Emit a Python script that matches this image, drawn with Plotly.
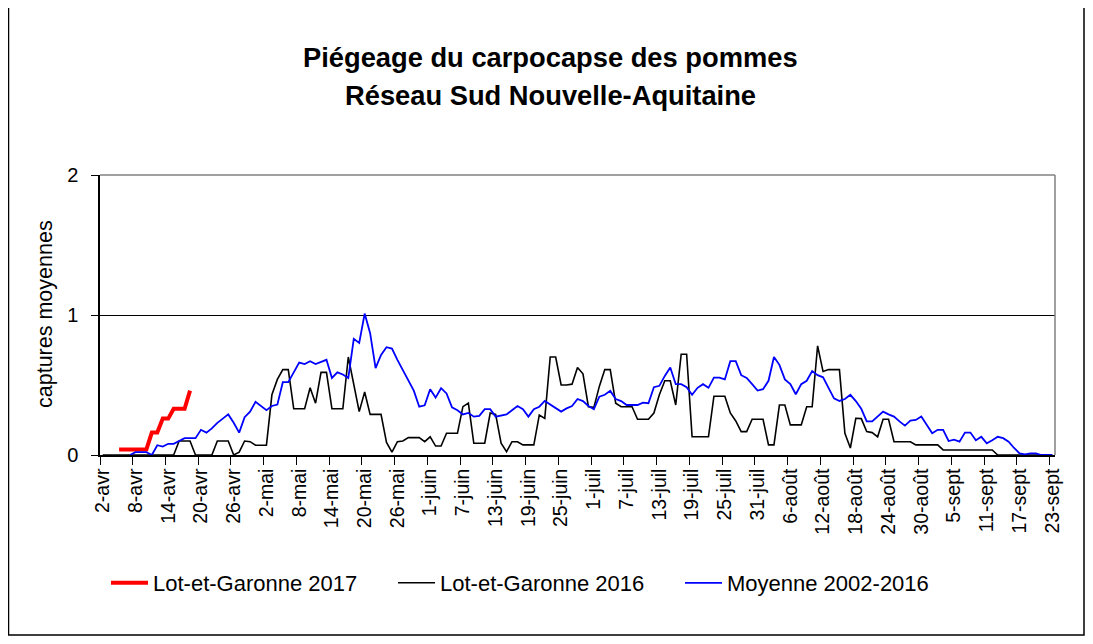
import plotly.graph_objects as go

# ---------------- data ----------------
MONTHS = ["avr", "mai", "juin", "juil", "août", "sept"]
MONTH_FIRST_DAY = [2, 1, 1, 1, 1, 1]
MONTH_LAST_DAY = [30, 31, 30, 31, 31, 23]

DATES = []
for m, d0, d1 in zip(MONTHS, MONTH_FIRST_DAY, MONTH_LAST_DAY):
    for d in range(d0, d1 + 1):
        DATES.append(f"{d}-{m}")

# Lot-et-Garonne 2017 (starts 5-avr)
RED_START = 3
LEG_2017 = [0.04, 0.04, 0.04, 0.04, 0.04, 0.04, 0.16, 0.16, 0.26, 0.26,
            0.33, 0.33, 0.33, 0.46]

# Lot-et-Garonne 2016 (daily, 2-avr .. 23-sept)
LEG_2016 = [
    0, 0, 0, 0, 0, 0, 0, 0, 0, 0,
    0, 0, 0, 0, 0.10, 0.10, 0.10, 0, 0, 0,
    0, 0.10, 0.10, 0.10, 0, 0.02, 0.10, 0.095, 0.07, 0.07,
    0.07, 0.43, 0.54, 0.61, 0.61, 0.33, 0.33, 0.33, 0.48, 0.37,
    0.59, 0.59, 0.33, 0.33, 0.33, 0.70, 0.50, 0.31, 0.45, 0.29,
    0.29, 0.29, 0.09, 0.02, 0.095, 0.10, 0.124, 0.124, 0.124, 0.095,
    0.13, 0.064, 0.064, 0.155, 0.155, 0.155, 0.345, 0.37, 0.084, 0.084,
    0.084, 0.30, 0.29, 0.084, 0.024, 0.095, 0.095, 0.072, 0.072, 0.072,
    0.286, 0.262, 0.70, 0.70, 0.50, 0.50, 0.506, 0.625, 0.58, 0.345,
    0.34, 0.49, 0.61, 0.61, 0.37, 0.345, 0.345, 0.345, 0.255, 0.255,
    0.255, 0.30, 0.43, 0.53, 0.53, 0.357, 0.72, 0.72, 0.13, 0.13,
    0.13, 0.13, 0.42, 0.42, 0.42, 0.30, 0.243, 0.167, 0.167, 0.255,
    0.255, 0.255, 0.072, 0.072, 0.357, 0.357, 0.215, 0.215, 0.215, 0.345,
    0.345, 0.78, 0.596, 0.61, 0.61, 0.61, 0.155, 0.05, 0.262, 0.26,
    0.167, 0.16, 0.13, 0.255, 0.255, 0.095, 0.095, 0.095, 0.095, 0.072,
    0.072, 0.072, 0.072, 0.072, 0.036, 0.036, 0.036, 0.036, 0.036, 0.036,
    0.036, 0.036, 0.036, 0.036, 0, 0, 0, 0, 0, 0,
    0, 0, 0, 0, 0,
]

# Moyenne 2002-2016 (daily, 2-avr .. 23-sept)
MOY = [
    None, None, None, None, None, 0, 0.02, 0.02, 0.02, 0.0,
    0.07, 0.06, 0.08, 0.08, 0.10, 0.12, 0.12, 0.12, 0.18, 0.16,
    0.19, 0.23, 0.26, 0.29, 0.23, 0.16, 0.27, 0.31, 0.38, 0.35,
    0.32, 0.35, 0.36, 0.52, 0.52, 0.59, 0.66, 0.65, 0.67, 0.65,
    0.665, 0.68, 0.55, 0.59, 0.575, 0.55, 0.83, 0.80, 1.01, 0.87,
    0.62, 0.715, 0.77, 0.76, 0.68, 0.61, 0.54, 0.46, 0.345, 0.355,
    0.47, 0.41, 0.477, 0.44, 0.34, 0.32, 0.29, 0.30, 0.274, 0.28,
    0.327, 0.327, 0.274, 0.28, 0.29, 0.32, 0.35, 0.327, 0.274, 0.327,
    0.345, 0.386, 0.36, 0.34, 0.31, 0.333, 0.35, 0.40, 0.385, 0.35,
    0.327, 0.417, 0.43, 0.458, 0.40, 0.385, 0.357, 0.357, 0.357, 0.374,
    0.37, 0.484, 0.494, 0.565, 0.625, 0.506, 0.506, 0.484, 0.43, 0.48,
    0.506, 0.48, 0.553, 0.553, 0.54, 0.67, 0.67, 0.57, 0.55, 0.506,
    0.46, 0.47, 0.53, 0.70, 0.644, 0.54, 0.506, 0.434, 0.506, 0.53,
    0.60, 0.57, 0.555, 0.48, 0.405, 0.386, 0.40, 0.43, 0.385, 0.33,
    0.24, 0.24, 0.274, 0.31, 0.29, 0.274, 0.24, 0.21, 0.245, 0.25,
    0.275, 0.215, 0.155, 0.18, 0.18, 0.10, 0.11, 0.095, 0.16, 0.16,
    0.105, 0.13, 0.084, 0.105, 0.13, 0.12, 0.095, 0.05, 0.012, 0.005,
    0.012, 0.012, 0, 0, 0,
]

Y_TICKS = [0, 1, 2]

FONT = "Liberation Sans, Arial, sans-serif"

# ---------------- figure ----------------
fig = go.Figure()

fig.add_trace(go.Scatter(
    x=DATES[RED_START:RED_START + len(LEG_2017)], y=LEG_2017,
    mode="lines", name="Lot-et-Garonne 2017",
    line=dict(color="#FF0000", width=4),
))
fig.add_trace(go.Scatter(
    x=DATES, y=LEG_2016, mode="lines", name="Lot-et-Garonne 2016",
    line=dict(color="#000000", width=1.6),
))
fig.add_trace(go.Scatter(
    x=DATES, y=MOY, mode="lines", name="Moyenne 2002-2016",
    line=dict(color="#0000FF", width=1.8),
))

# page body has an 8px margin: the figure is placed at (8, 8) in the window
OFF = 8
W, H = 1093 - 2 * OFF, 644 - 2 * OFF
# plot area in window pixels: x 100..1055, y 175..455
ML = 100 - OFF
MT = 175 - OFF
MR = W - (1055 - OFF)
MB = H - (455 - OFF)
PW = W - ML - MR
PH = H - MT - MB


def px_x(x):
    """window x pixel -> paper coordinate"""
    return (x - OFF - ML) / PW


def px_y(y):
    """window y pixel -> paper coordinate"""
    return (H - MB - (y - OFF)) / PH


fig.update_layout(
    width=W, height=H,
    margin=dict(l=ML, r=MR, t=MT, b=MB, pad=0),
    paper_bgcolor="white", plot_bgcolor="white",
    font=dict(family=FONT, color="black", size=20),
    showlegend=True,
    legend=dict(
        orientation="h", x=px_x(106), y=px_y(583),
        xanchor="left", yanchor="middle",
        font=dict(size=22, family=FONT),
        entrywidth=235, itemwidth=37,
        bgcolor="rgba(0,0,0,0)",
    ),
    xaxis=dict(
        type="category", categoryorder="array", categoryarray=DATES,
        range=[-0.5, len(DATES) - 0.5],
        tickmode="linear", tick0=0, dtick=6,
        tickson="boundaries",
        ticks="outside", ticklen=8, tickwidth=1, tickcolor="black",
        showline=True, linecolor="black", linewidth=1.5,
        showgrid=False, tickangle=-90,
        ticklabelstandoff=4,
        tickfont=dict(size=19.5, family=FONT),
        zeroline=False,
    ),
    yaxis=dict(
        range=[0, 2], tickmode="array", tickvals=Y_TICKS,
        ticktext=[str(v) for v in Y_TICKS],
        ticks="outside", ticklen=7, tickwidth=1, tickcolor="black",
        showline=True, linecolor="black", linewidth=1.5,
        showgrid=True, gridcolor="black", gridwidth=1,
        zeroline=False,
        ticklabelstandoff=9,
        tickfont=dict(size=20, family=FONT),
    ),
    shapes=[
        # plot area border (top & right, grey)
        dict(type="line", xref="paper", yref="paper", x0=0, x1=1, y0=1, y1=1,
             line=dict(color="#808080", width=1.5), layer="above"),
        dict(type="line", xref="paper", yref="paper", x0=1, x1=1, y0=0, y1=1,
             line=dict(color="#808080", width=1.5), layer="above"),
        # outer chart frame
        dict(type="rect", xref="paper", yref="paper",
             x0=px_x(8.5), x1=px_x(1084), y0=px_y(635), y1=px_y(6.5),
             line=dict(color="black", width=1.5), layer="below"),
    ],
    annotations=[
        dict(text="<b>Piégeage du carpocapse des pommes</b>",
             xref="paper", yref="paper", x=px_x(550), y=px_y(57.5),
             xanchor="center", yanchor="middle", showarrow=False,
             font=dict(size=27.3, family=FONT)),
        dict(text="<b>Réseau Sud Nouvelle-Aquitaine</b>",
             xref="paper", yref="paper", x=px_x(550), y=px_y(96),
             xanchor="center", yanchor="middle", showarrow=False,
             font=dict(size=27.3, family=FONT)),
        dict(text="captures moyennes", textangle=-90,
             xref="paper", yref="paper", x=px_x(45), y=px_y(314),
             xanchor="center", yanchor="middle", showarrow=False,
             font=dict(size=21.5, family=FONT)),
    ],
)

fig.write_html("out.html")
